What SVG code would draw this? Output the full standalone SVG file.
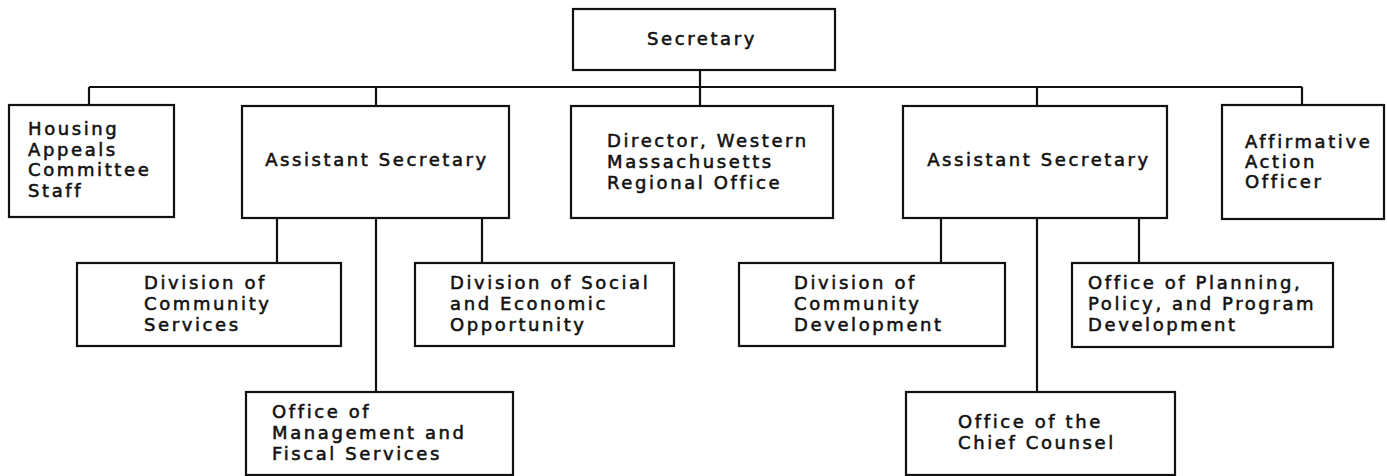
<svg xmlns="http://www.w3.org/2000/svg" width="1387" height="476" viewBox="0 0 1387 476">
<style>
.box{fill:#fff;stroke:#111;stroke-width:2.2}
.ln{fill:none;stroke:#111;stroke-width:2.2}
text{font-family:"DejaVu Sans",Verdana,sans-serif;font-size:18px;fill:#111;stroke:#111;stroke-width:0.55;letter-spacing:2.6px}
.c{text-anchor:middle}
</style>
<rect width="1387" height="476" fill="#fff"/>
<g id="connectors">
<path class="ln" d="M700 70V87M89 87H1302M89 87V106M376 87V106M700 87V106M1037 87V106M1302 87V106"/>
<path class="ln" d="M277 218V263M482 218V263M376 218V392"/>
<path class="ln" d="M941 218V263M1139 218V263M1037 218V392"/>
</g>
<g id="secretary">
<rect class="box" x="573" y="9" width="262" height="61"/>
<text class="c" x="702" y="45">Secretary</text>
</g>
<g id="housing">
<rect class="box" x="9" y="105" width="165" height="112"/>
<text x="28" y="135">Housing</text>
<text x="28" y="155.5">Appeals</text>
<text x="28" y="176">Committee</text>
<text x="28" y="196.5">Staff</text>
</g>
<g id="asst1">
<rect class="box" x="242" y="106" width="267" height="112"/>
<text class="c" x="377" y="166">Assistant Secretary</text>
</g>
<g id="director">
<rect class="box" x="571" y="106" width="262" height="112"/>
<text x="607" y="147">Director, Western</text>
<text x="607" y="168">Massachusetts</text>
<text x="607" y="189">Regional Office</text>
</g>
<g id="asst2">
<rect class="box" x="903" y="106" width="264" height="112"/>
<text class="c" x="1039" y="166">Assistant Secretary</text>
</g>
<g id="affirmative">
<rect class="box" x="1222" y="105" width="162" height="114"/>
<text x="1245" y="148">Affirmative</text>
<text x="1245" y="168">Action</text>
<text x="1245" y="188">Officer</text>
</g>
<g id="div-community-services">
<rect class="box" x="77" y="263" width="264" height="83"/>
<text x="144" y="289">Division of</text>
<text x="144" y="310">Community</text>
<text x="144" y="331">Services</text>
</g>
<g id="div-social-economic">
<rect class="box" x="415" y="263" width="259" height="83"/>
<text x="450" y="289">Division of Social</text>
<text x="450" y="310">and Economic</text>
<text x="450" y="331">Opportunity</text>
</g>
<g id="div-community-development">
<rect class="box" x="739" y="263" width="266" height="83"/>
<text x="794" y="289">Division of</text>
<text x="794" y="310">Community</text>
<text x="794" y="331">Development</text>
</g>
<g id="office-planning">
<rect class="box" x="1072" y="263" width="261" height="84"/>
<text x="1088" y="289">Office of Planning,</text>
<text x="1088" y="310">Policy, and Program</text>
<text x="1088" y="331">Development</text>
</g>
<g id="office-management">
<rect class="box" x="246" y="392" width="267" height="83"/>
<text x="272" y="418">Office of</text>
<text x="272" y="439">Management and</text>
<text x="272" y="460">Fiscal Services</text>
</g>
<g id="chief-counsel">
<rect class="box" x="906" y="392" width="269" height="83"/>
<text x="958" y="428">Office of the</text>
<text x="958" y="449">Chief Counsel</text>
</g>
</svg>
